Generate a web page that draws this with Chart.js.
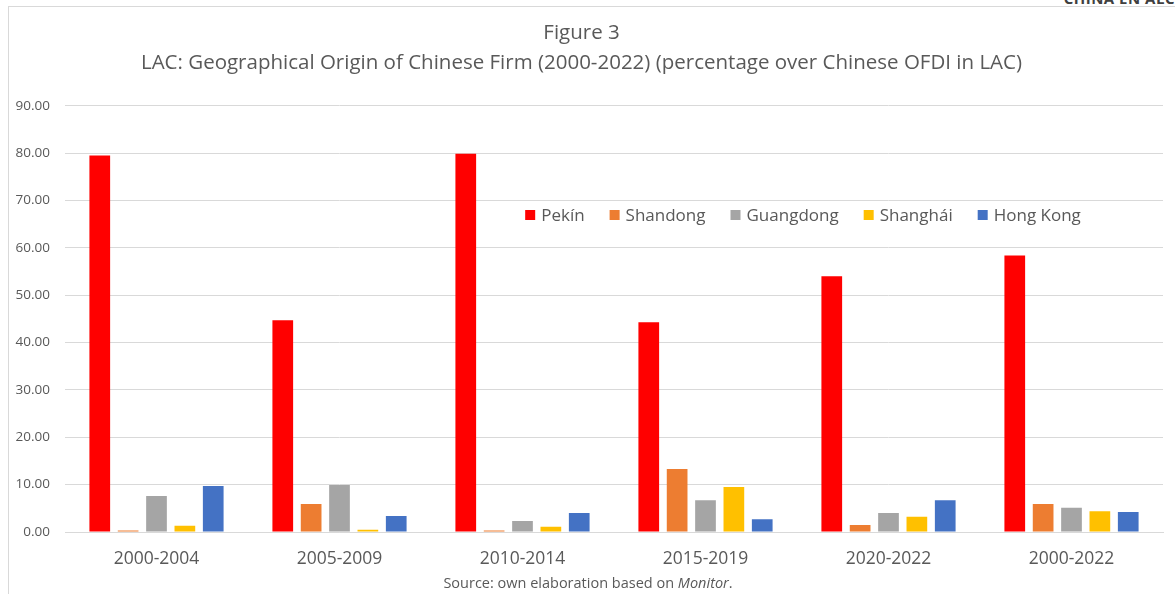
<!DOCTYPE html>
<html>
<head>
<meta charset="utf-8">
<script src="https://cdn.jsdelivr.net/npm/chart.js@4.4.1/dist/chart.umd.min.js"></script>
<style>
  html, body { margin: 0; padding: 0; background: #fff; overflow: hidden; }
  #wrap { position: relative; width: 1175px; height: 594px; }
  #frame { position: absolute; left: 8px; top: 6px; width: 1180px; height: 600px; border: 1px solid #d9d9d9; box-sizing: border-box; }
  #corner { position: absolute; right: 0px; top: -12px; font: bold 15px "Open Sans", sans-serif; color: #404040; letter-spacing: 0.5px; }
  #src { position: absolute; left: 0; width: 1176px; top: 573px; text-align: center; font: 14.5px "Open Sans", sans-serif; color: #595959; }
  canvas { position: absolute; left: 0; top: 0; }
</style>
</head>
<body>
<div id="wrap">
  <div id="frame"></div>
  <div id="corner">CHINA EN ALC</div>
  <canvas id="c" width="1175" height="594"></canvas>
  <div id="src">Source: own elaboration based on <i>Monitor</i>.</div>
</div>
<script>
const periods = ['2000-2004', '2005-2009', '2010-2014', '2015-2019', '2020-2022', '2000-2022'];
const pekin     = [79.5, 44.7, 79.9, 44.3, 54.0, 58.4];
const shandong  = [0.3, 5.9, 0.3, 13.3, 1.5, 5.9];
const guangdong = [7.6, 9.9, 2.3, 6.7, 4.0, 5.1];
const shanghai  = [1.3, 0.5, 1.1, 9.5, 3.2, 4.4];
const hongkong  = [9.7, 3.4, 4.0, 2.7, 6.7, 4.2];
const titleLines = ['Figure 3', 'LAC: Geographical Origin of Chinese Firm (2000-2022) (percentage over Chinese OFDI in LAC)'];

const FONT = '"Open Sans", sans-serif';

// legend drawn inside the plot, like the Excel original
const innerLegend = {
  id: 'innerLegend',
  afterDraw(chart) {
    const ctx = chart.ctx;
    ctx.save();
    ctx.font = '17px ' + FONT;
    ctx.textBaseline = 'middle';
    const items = chart.data.datasets.map(d => ({ label: d.label, color: d.backgroundColor }));
    const box = 10, gap = 6, spacing = 25;
    let total = 0;
    items.forEach(it => { it.w = box + gap + ctx.measureText(it.label).width; total += it.w; });
    total += spacing * (items.length - 1);
    let x = 803 - total / 2;
    const y = 215;
    items.forEach(it => {
      ctx.fillStyle = it.color;
      ctx.fillRect(x, y - box / 2, box, box);
      ctx.fillStyle = '#595959';
      ctx.fillText(it.label, x + box + gap, y + 1);
      x += it.w + spacing;
    });
    ctx.restore();
  }
};

const mk = (label, data, color) => ({
  label, data, backgroundColor: color, borderWidth: 0,
  categoryPercentage: 0.775, barPercentage: 0.73
});

new Chart(document.getElementById('c'), {
  type: 'bar',
  data: {
    labels: periods,
    datasets: [
      mk('Pekín', pekin, '#ff0000'),
      mk('Shandong', shandong, '#ed7d31'),
      mk('Guangdong', guangdong, '#a5a5a5'),
      mk('Shanghái', shanghai, '#ffc000'),
      mk('Hong Kong', hongkong, '#4472c4')
    ]
  },
  options: {
    responsive: false,
    animation: false,
    layout: { padding: { top: 18, right: 12, bottom: 15, left: 0 } },
    plugins: {
      legend: { display: false },
      tooltip: { enabled: false },
      title: {
        display: true,
        text: titleLines,
        color: '#595959',
        font: { family: FONT, size: 20.5, weight: 'normal', lineHeight: 1.46 },
        padding: { top: 0, bottom: 28 }
      }
    },
    scales: {
      x: {
        grid: { display: false },
        border: { color: '#d9d9d9' },
        ticks: { color: '#595959', font: { family: FONT, size: 17.5 }, padding: 9 }
      },
      y: {
        min: 0, max: 90,
        afterFit: (s) => { s.width = 65; },
        border: { display: false },
        grid: { color: '#d9d9d9', drawTicks: false },
        ticks: {
          stepSize: 10, padding: 15, color: '#595959',
          font: { family: FONT, size: 13.5 },
          callback: (v) => v.toFixed(2)
        }
      }
    }
  },
  plugins: [innerLegend]
});
</script>
</body>
</html>
